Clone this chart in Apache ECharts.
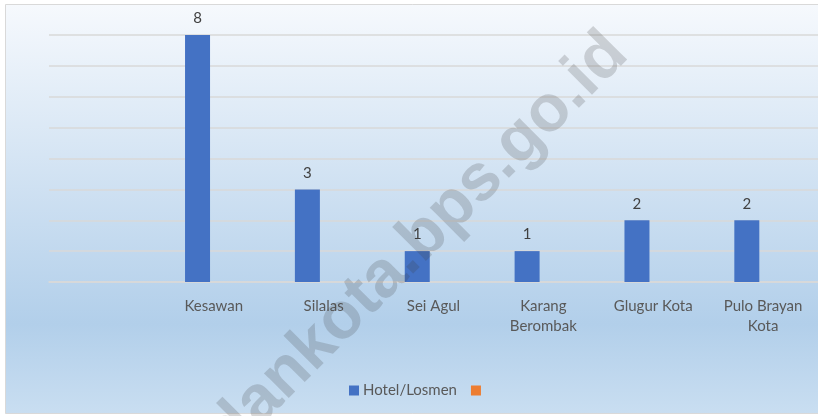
<!DOCTYPE html>
<html>
<head>
<meta charset="utf-8">
<script src="https://cdn.jsdelivr.net/npm/echarts@6/dist/echarts.min.js"></script>
<style>
  html, body { margin: 0; padding: 0; background: #fff; }
  #chart { width: 818px; height: 416px; }
</style>
</head>
<body>
<div id="chart"></div>
<script>
var categories = ['', 'Kesawan', 'Silalas', 'Sei Agul', 'Karang\nBerombak', 'Glugur Kota', 'Pulo Brayan\nKota'];
var hotelLosmen = [null, 8, 3, 1, 1, 2, 2];
var seriesB = [null, null, null, null, null, null, null];
var seriesNames = ['Hotel/Losmen', ' '];

var chartDom = document.getElementById('chart');
var myChart = echarts.init(chartDom);
var option;

var font = 'Lato, "Open Sans", sans-serif';

option = {
  animation: false,
  backgroundColor: '#ffffff',
  graphic: [
    {
      // chart frame with gradient fill
      type: 'rect',
      z: -10,
      shape: { x: 5.5, y: 4.5, width: 830, height: 409 },
      style: {
        fill: new echarts.graphic.LinearGradient(0, 0, 0, 1, [
          { offset: 0, color: '#f6f9fd' },
          { offset: 0.78, color: '#b2cfea' },
          { offset: 1, color: '#c9def1' }
        ]),
        stroke: '#d9d9d9',
        lineWidth: 1
      }
    },
    {
      // watermark
      type: 'text',
      z: 100,
      x: 384,
      y: 277,
      rotation: Math.PI / 4,
      style: {
        text: 'medankota.bps.go.id',
        font: 'bold 66px "Liberation Sans", Arial, sans-serif',
        fill: 'rgba(60,60,60,0.2)',
        align: 'center',
        verticalAlign: 'middle'
      }
    }
  ],
  legend: {
    data: seriesNames,
    left: 349,
    top: 383,
    padding: 0,
    icon: 'rect',
    itemWidth: 10,
    itemHeight: 10,
    itemGap: 14,
    textStyle: { color: '#595959', fontSize: 15, fontFamily: font, padding: [0, 0, 0, -1] }
  },
  grid: {
    left: 49,
    right: -4.5,
    top: 35,
    bottom: 134,
    containLabel: false
  },
  xAxis: {
    type: 'category',
    data: categories,
    axisTick: { show: false },
    axisLine: { lineStyle: { color: '#d9d9d9', width: 1.5 } },
    axisLabel: {
      color: '#595959',
      fontSize: 15,
      fontFamily: font,
      lineHeight: 20,
      margin: 14,
      interval: 0
    }
  },
  yAxis: {
    type: 'value',
    min: 0,
    max: 8,
    interval: 1,
    axisLabel: { show: false },
    axisLine: { show: false },
    axisTick: { show: false },
    splitLine: { lineStyle: { color: '#d9d9d9', width: 1.5 } }
  },
  series: [
    {
      name: seriesNames[0],
      type: 'bar',
      data: hotelLosmen,
      barWidth: 25,
      barGap: '30%',
      itemStyle: { color: '#4472c4' },
      label: {
        show: true,
        position: 'top',
        distance: 9,
        color: '#404040',
        fontSize: 15,
        fontFamily: font
      }
    },
    {
      name: seriesNames[1],
      type: 'bar',
      data: seriesB,
      barWidth: 25,
      barGap: '30%',
      itemStyle: { color: '#ed7d31' }
    }
  ]
};

option && myChart.setOption(option);
</script>
</body>
</html>
